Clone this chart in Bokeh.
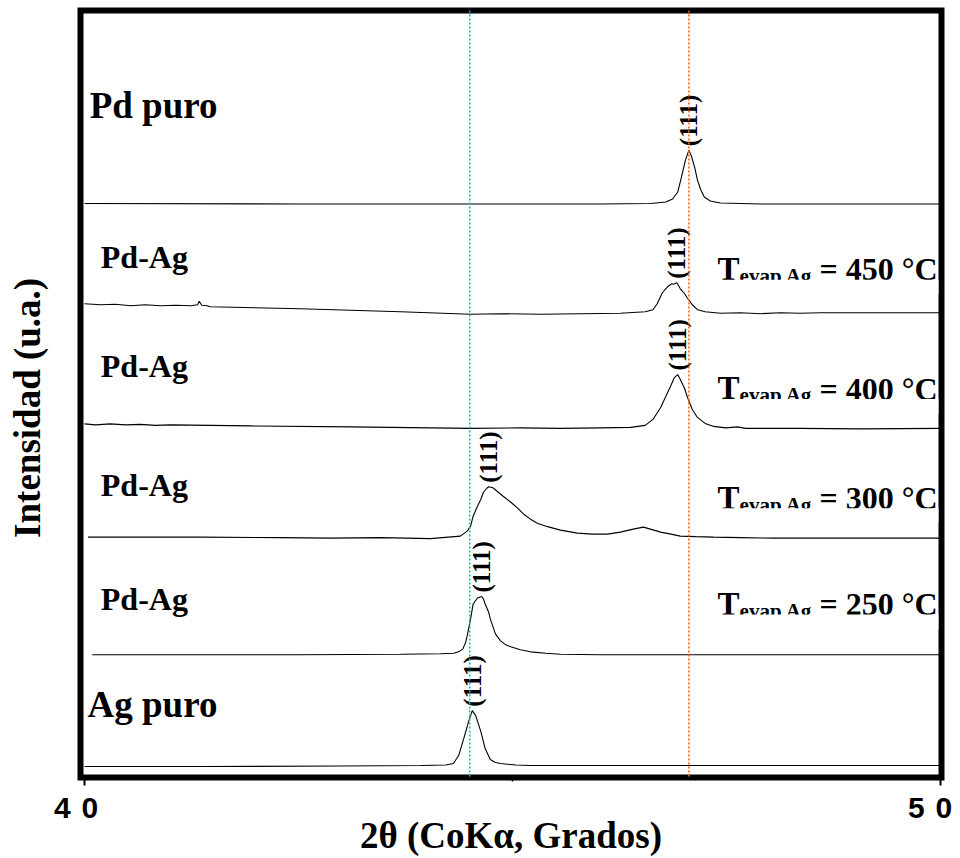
import numpy as np
from bokeh.plotting import figure
from bokeh.models import Range1d, FixedTicker, Span, BoxAnnotation, ColumnDataSource
from bokeh.core.properties import value
from bokeh.embed import file_html
from bokeh.resources import INLINE

# ---------------- data ----------------
# 2-theta (deg) and intensity (a.u., relative to each pattern's own baseline)
pd_tt = [40.00, 42.52, 44.86, 46.03, 46.61, 46.79, 46.87, 46.93, 46.97, 47.02, 47.06,
         47.09, 47.13, 47.16, 47.20, 47.24, 47.31, 47.43, 47.90, 50.00]
pd_int = [0.5, 0, 0, 0, 0.5, 2, 5, 12, 26, 44, 54, 48, 36, 24, 14, 7, 3, 1, 0, 0]

t450_tt = [40.00, 40.19, 40.36, 40.54, 40.71, 40.89, 41.06, 41.24, 41.32, 41.34, 41.37,
           41.43, 41.47, 42.52, 43.69, 44.51, 44.86, 45.33, 45.79, 46.26, 46.55, 46.64,
           46.69, 46.75, 46.81, 46.86, 46.88, 46.92, 46.96, 47.01, 47.04, 47.10, 47.16,
           47.25, 47.43, 47.66, 47.90, 48.13, 48.36, 48.60, 50.00]
t450_int = [9, 8, 8.5, 7, 8, 7, 7.5, 7, 8, 11.5, 7.5, 7, 6, 4, 1, -1.5, -1, -1.5, -1,
            -0.5, 1, 3, 9, 20, 26, 29, 28.5, 30, 24, 19, 15, 8, 3, 1, -0.5, 0, -1, 0,
            -0.5, 0, 0]

t400_tt = [40.00, 40.13, 40.30, 40.48, 40.65, 40.83, 41.00, 41.94, 43.11, 44.51, 45.09,
           45.56, 46.03, 46.38, 46.55, 46.64, 46.73, 46.79, 46.85, 46.89, 46.93, 46.96,
           47.01, 47.04, 47.10, 47.16, 47.25, 47.35, 47.49, 47.63, 47.72, 48.36, 49.07,
           50.00]
t400_int = [4.5, 3.5, 4.5, 3.5, 4, 3, 3.5, 2.5, 1.5, 0, 0.5, 0, 0.5, 1, 3, 9, 21, 32,
            43, 51, 54, 49, 40, 32, 19, 11, 5, 2, 0.5, 1.5, 0, 0, -0.5, 0]

t300_tt = [40.04, 41.36, 42.29, 42.87, 43.46, 44.04, 44.39, 44.47, 44.51, 44.54, 44.59,
           44.63, 44.66, 44.70, 44.72, 44.77, 44.82, 44.89, 44.98, 45.06, 45.13, 45.21,
           45.29, 45.41, 45.56, 45.76, 45.93, 46.11, 46.26, 46.41, 46.53, 46.61, 46.73,
           46.85, 46.96, 47.14, 47.35, 47.66, 48.05, 50.00]
t300_int = [1, 1, 0.5, 0, 0.5, -0.5, 2, 7, 12, 22, 32, 39, 46, 50, 51.5, 50.5, 47, 42,
            36, 30, 24, 19, 15, 11.5, 8, 5, 4, 4, 6, 9, 11, 9, 6, 4, 2, 1.5, 1, 0.5,
            0, 0]

t250_tt = [40.09, 41.36, 42.52, 43.69, 44.16, 44.31, 44.37, 44.42, 44.45, 44.47, 44.51,
           44.54, 44.59, 44.64, 44.66, 44.68, 44.72, 44.74, 44.78, 44.80, 44.86, 44.92,
           44.98, 45.09, 45.21, 45.39, 45.56, 46.03, 47.20, 50.00]
t250_int = [0, 0, 0, 0.5, 1, 1.5, 3, 6, 12, 19, 36, 51, 57, 58.5, 56, 51, 43, 36, 26,
            21, 14, 10, 8, 5, 3, 1.5, 0.5, 0, 0, 0]

ag_tt = [40.00, 41.36, 42.99, 43.93, 44.22, 44.31, 44.37, 44.43, 44.49, 44.53, 44.57,
         44.63, 44.68, 44.74, 44.80, 44.86, 45.04, 45.21, 46.03, 50.00]
ag_int = [-1, -1, -0.5, 0, 0.5, 2, 10, 27, 45, 55, 50, 34, 17, 6, 3, 2, 0.5, 0, 0, 0]

# vertical stacking offsets of the patterns (a.u.)
offsets = [575, 466, 350, 240, 123, 12]
sample_names = ["Pd puro", "Pd-Ag", "Pd-Ag", "Pd-Ag", "Pd-Ag", "Ag puro"]
evap_temps = [450, 400, 300, 250]          # Tevap Ag (°C) for the Pd-Ag films
peak_label = "(111)"
ref_lines = [44.50, 47.06]                  # Ag(111) and Pd(111) reference positions
ref_colors = ["#0cb4ee", "#ff6410"]
tick_values = [40, 50]
tick_labels = ["4 0", "5 0"]
x_title = "2θ (CoKα, Grados)"
y_title = "Intensidad (u.a.)"

series_tt = [pd_tt, t450_tt, t400_tt, t300_tt, t250_tt, ag_tt]
series_int = [pd_int, t450_int, t400_int, t300_int, t250_int, ag_int]

# ---------------- figure ----------------
p = figure(width=960, height=858, output_backend="svg", toolbar_location=None,
           x_range=Range1d(39.953, 50.011), y_range=Range1d(0, 769),
           min_border_left=80, min_border_right=19, min_border_top=10,
           min_border_bottom=79)
p.background_fill_color = "white"
p.border_fill_color = "white"
p.outline_line_color = "black"
p.outline_line_width = 6
p.outline_line_join = "miter"
p.grid.visible = False

NB = "\u00a0"
HS = "\u200a"
trailing = {40: NB + NB, 50: NB}
xa = p.xaxis[0]
xa.ticker = FixedTicker(ticks=tick_values, minor_ticks=[45])
xa.major_label_overrides = {v: l.replace(" ", NB + HS) + trailing[v]
                            for v, l in zip(tick_values, tick_labels)}
xa.major_label_text_font = "Liberation Sans"
xa.major_label_text_font_style = "bold"
xa.major_label_text_font_size = "30px"
xa.major_label_text_color = "black"
xa.major_label_standoff = 5
xa.axis_line_color = None
xa.major_tick_out = 8
xa.major_tick_in = 0
xa.major_tick_line_width = 2
xa.major_tick_line_color = "black"
xa.minor_tick_out = 4
xa.minor_tick_in = 0
xa.minor_tick_line_width = 1.5
xa.minor_tick_line_color = "black"
xa.axis_label = x_title
xa.axis_label_text_font = "Liberation Serif"
xa.axis_label_text_font_style = "bold"
xa.axis_label_text_font_size = "37px"
xa.axis_label_text_color = "black"
xa.axis_label_standoff = -12

ya = p.yaxis[0]
ya.ticker = FixedTicker(ticks=[])
ya.major_label_text_font_size = "0px"
ya.major_label_standoff = 0
ya.major_tick_out = 0
ya.major_tick_in = 0
ya.minor_tick_out = 0
ya.minor_tick_in = 0
ya.axis_line_color = None
ya.axis_label = y_title + NB * 3
ya.axis_label_text_font = "Liberation Serif"
ya.axis_label_text_font_style = "bold"
ya.axis_label_text_font_size = "37px"
ya.axis_label_text_color = "black"
ya.axis_label_standoff = 33

# reference lines
for loc, col in zip(ref_lines, ref_colors):
    p.add_layout(Span(location=loc, dimension="height", line_color=col,
                      line_width=1.6, line_dash="2 2"))

# patterns
peak_x, peak_y = [], []
for tt, inten, off in zip(series_tt, series_int, offsets):
    y = np.array(inten, dtype=float) + off
    p.line(x=tt, y=y, line_color="black", line_width=1.1)
    k = int(np.argmax(y))
    peak_x.append(tt[k])
    peak_y.append(y[k])

# (111) labels above each peak
p.text(x=peak_x, y=peak_y, text=[peak_label] * len(peak_x), angle=np.pi / 2,
       text_align="left", text_baseline="middle", y_offset=-4,
       text_font=value("Liberation Serif"), text_font_style="bold",
       text_font_size="25px", text_color="black")

# sample names (baseline positions, converted to box-middle anchors)
name_base = [661, 511, 402, 282, 168, 61]
name_size = [37, 32, 32, 32, 32, 37]
name_src = ColumnDataSource(dict(
    x=[40.06, 40.19, 40.19, 40.19, 40.19, 40.035],
    y=[b + 0.34 * s for b, s in zip(name_base, name_size)],
    text=sample_names,
    size=[f"{s}px" for s in name_size],
))
p.text(x="x", y="y", text="text", source=name_src, text_font_size="size",
       text_font=value("Liberation Serif"), text_font_style="bold",
       text_align="left", text_baseline="middle", text_color="black")

# Tevap Ag labels (partly clipped at the bottom, as in the original)
t_x = [47.395] * 4
t_base = [498.5, 379, 269.5, 163]
p.text(x=t_x, y=[b + 0.34 * 33 for b in t_base], text=["T"] * 4,
       text_font=value("Liberation Serif"), text_font_style="bold",
       text_font_size="33px", text_align="left", text_baseline="middle",
       text_color="black")
p.text(x=t_x, y=[b - 3 + 0.34 * 21 for b in t_base], text=["evap Ag"] * 4, x_offset=22,
       text_font=value("Liberation Serif"), text_font_style="bold",
       text_font_size="21px", text_align="left", text_baseline="middle",
       text_color="black")
p.text(x=t_x, y=[b + 0.34 * 32 for b in t_base], text=[f"= {t} °C" for t in evap_temps],
       x_offset=102, text_font=value("Liberation Serif"), text_font_style="bold",
       text_font_size="32px", text_align="left", text_baseline="middle",
       text_color="black")
for b in t_base:
    p.add_layout(BoxAnnotation(left=47.37, right=49.975, top=b + 0.5, bottom=b - 14,
                               fill_color="white", fill_alpha=1.0, line_alpha=0))

open("out.html", "w").write(file_html(p, INLINE))
